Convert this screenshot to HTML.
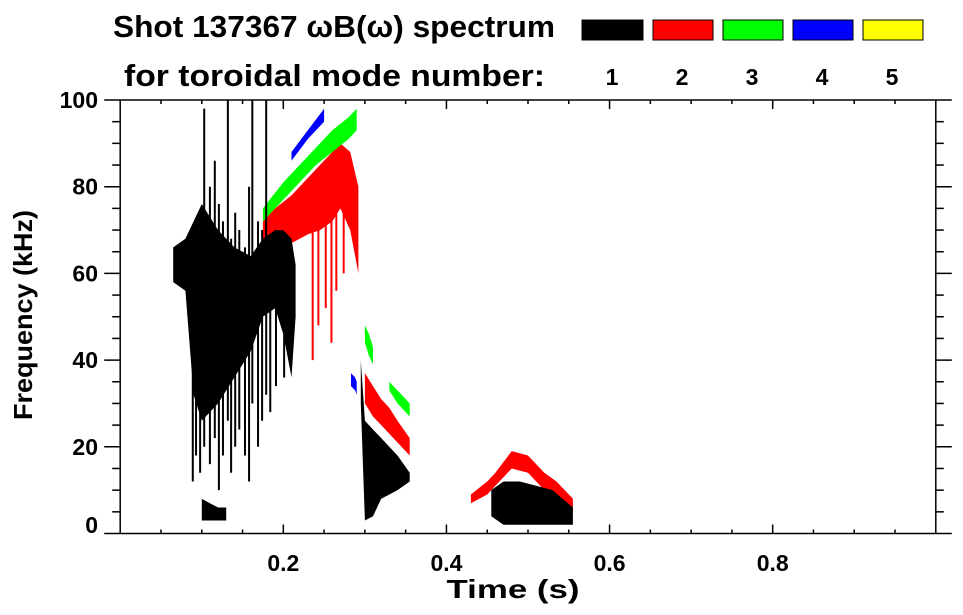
<!DOCTYPE html>
<html><head><meta charset="utf-8"><style>
body{margin:0;background:#fff;}
svg{display:block;font-family:"Liberation Sans",Arial,sans-serif;font-weight:bold;}
</style></head><body>
<svg id="chart" width="963" height="615" viewBox="0 0 963 615">
<text x="113" y="37" font-size="31" textLength="442" lengthAdjust="spacingAndGlyphs">Shot 137367 ωB(ω) spectrum</text>
<text x="124" y="86" font-size="31" textLength="421" lengthAdjust="spacingAndGlyphs">for toroidal mode number:</text>
<g>
<rect x="582" y="20" width="61" height="20" fill="#000" stroke="#000"/>
<rect x="653" y="20" width="60" height="20" fill="#f00" stroke="#000"/>
<rect x="723" y="20" width="60" height="20" fill="#0f0" stroke="#000"/>
<rect x="793" y="20" width="60" height="20" fill="#00f" stroke="#000"/>
<rect x="863" y="20" width="60" height="20" fill="#ff0" stroke="#000"/>
<text x="612" y="85" font-size="23" text-anchor="middle">1</text>
<text x="682" y="85" font-size="23" text-anchor="middle">2</text>
<text x="752" y="85" font-size="23" text-anchor="middle">3</text>
<text x="822" y="85" font-size="23" text-anchor="middle">4</text>
<text x="892" y="85" font-size="23" text-anchor="middle">5</text>
</g>
<g id="marks"></g>
<g id="axes"></g>
<text x="513" y="598" font-size="26" text-anchor="middle" textLength="133" lengthAdjust="spacingAndGlyphs">Time (s)</text>
<text transform="translate(32,315) rotate(-90)" font-size="26" text-anchor="middle" textLength="210" lengthAdjust="spacingAndGlyphs">Frequency (kHz)</text>
</svg>
<script>
// ---- data ----
const xTicks = [0.2, 0.4, 0.6, 0.8];
const xTickLabels = ["0.2", "0.4", "0.6", "0.8"];
const yTicks = [0, 20, 40, 60, 80, 100];
const yTickLabels = ["0", "20", "40", "60", "80", "100"];

// mode 1 (black) bands: time, lower freq, upper freq
const m1aT = [0.065,0.08,0.09,0.10,0.12,0.14,0.16,0.175,0.19,0.20,0.21,0.215];
const m1aLo = [58,56,32,26,30,36,42,50,52,46,36,50];
const m1aHi = [66,68,72,76,70,66,64,68,70,70,68,62];
const m1bT = [0.295,0.30,0.31,0.32,0.33,0.34,0.355];
const m1bLo = [30,3,4,8,9,10,12];
const m1bHi = [40,26,24,22,20,18,14];
const m1cT = [0.455,0.47,0.49,0.51,0.53,0.555];
const m1cLo = [4,2,2,2,2,2];
const m1cHi = [10,12,12,11,10,6];
const m1dT = [0.10,0.11,0.12,0.13];
const m1dLo = [3,3,3,3];
const m1dHi = [8,7,6,6];
// mode 2 (red)
const m2aT = [0.175,0.19,0.21,0.23,0.245,0.26,0.27,0.282,0.292];
const m2aLo = [66,67,67,69,70,72,75,70,60];
const m2aHi = [72,75,78,82,85,88,90,88,80];
const m2bT = [0.30,0.31,0.32,0.33,0.34,0.355];
const m2bLo = [30,27,25,23,21,18];
const m2bHi = [37,34,31,29,26,22];
const m2cT = [0.43,0.45,0.46,0.48,0.50,0.52,0.535,0.555];
const m2cLo = [7,9,11,15,14,10,8,5];
const m2cHi = [9,12,14,19,18,14,12,8];
// mode 3 (green)
const m3aT = [0.175,0.20,0.22,0.24,0.26,0.28,0.29];
const m3aLo = [72,77,81,85,88,91,93];
const m3aHi = [75,81,85,89,93,96,98];
const m3bT = [0.33,0.34,0.355];
const m3bLo = [33,30,27];
const m3bHi = [35,33,30];
const m3cT = [0.30,0.305,0.31];
const m3cLo = [44,41,39];
const m3cHi = [48,46,43];
// mode 4 (blue)
const m4aT = [0.21,0.23,0.25];
const m4aLo = [86,91,95];
const m4aHi = [88,93,98];
const m4bT = [0.283,0.288,0.29];
const m4bLo = [34,33,32];
const m4bHi = [37,36,35];

// black vertical spikes: time, low freq, high freq
const spikeT = [0.089,0.093,0.098,0.103,0.110,0.116,0.121,0.126,0.132,0.136,0.141,0.146,0.153,0.158,0.162,0.169,0.174,0.179,0.184,0.191,0.201];
const spikeLo = [12,18,14,20,16,22,10,18,26,14,20,24,18,12,30,20,26,32,28,34,36];
const spikeHi = [66,70,74,98,80,86,76,72,100,68,74,70,66,80,100,72,70,100,68,70,66];
// red vertical drips
const dripT = [0.236,0.243,0.252,0.259,0.265,0.274];
const dripLo = [40,48,52,44,56,60];
const dripHi = [75,78,80,82,85,80];

// ---- axes ----
const X0=120.2, XS=815.6, Y0=533.5, YS=4.335;
const xS = t => X0 + t*XS;
const yS = f => Y0 - f*YS;
const NS="http://www.w3.org/2000/svg";
const marks=document.getElementById('marks');
const axes=document.getElementById('axes');

function band(T,Lo,Hi,color,name){
  const pts=[];
  for(let i=0;i<T.length;i++) pts.push(xS(T[i]).toFixed(1)+","+yS(Hi[i]).toFixed(1));
  for(let i=T.length-1;i>=0;i--) pts.push(xS(T[i]).toFixed(1)+","+yS(Lo[i]).toFixed(1));
  const p=document.createElementNS(NS,'polygon');
  p.setAttribute('points',pts.join(' '));
  p.setAttribute('fill',color);
  
  
  marks.appendChild(p);
}
band(m2aT,m2aLo,m2aHi,'#f00','mode2-band-a');
band(m2bT,m2bLo,m2bHi,'#f00','mode2-band-b');
band(m2cT,m2cLo,m2cHi,'#f00','mode2-band-c');
band(m3aT,m3aLo,m3aHi,'#0f0','mode3-band-a');
band(m3bT,m3bLo,m3bHi,'#0f0','mode3-band-b');
band(m3cT,m3cLo,m3cHi,'#0f0','mode3-band-c');
band(m4aT,m4aLo,m4aHi,'#00f','mode4-band-a');
band(m4bT,m4bLo,m4bHi,'#00f','mode4-band-b');
band(m1aT,m1aLo,m1aHi,'#000','mode1-band-a');
band(m1bT,m1bLo,m1bHi,'#000','mode1-band-b');
band(m1cT,m1cLo,m1cHi,'#000','mode1-band-c');
band(m1dT,m1dLo,m1dHi,'#000','mode1-band-d');

function spikes(T,Lo,Hi,color,w,name){
  for(let i=0;i<T.length;i++){
    const l=document.createElementNS(NS,'line');
    l.setAttribute('x1',xS(T[i]));l.setAttribute('x2',xS(T[i]));
    l.setAttribute('y1',yS(Lo[i]));l.setAttribute('y2',yS(Hi[i]));
    l.setAttribute('stroke',color);l.setAttribute('stroke-width',w);
    
    
    marks.appendChild(l);
  }
}
spikes(dripT,dripLo,dripHi,'#f00',2,'mode2-drip');
spikes(spikeT,spikeLo,spikeHi,'#000',2,'mode1-spike');

function line(x1,y1,x2,y2,name){
  const l=document.createElementNS(NS,'line');
  l.setAttribute('x1',x1);l.setAttribute('y1',y1);l.setAttribute('x2',x2);l.setAttribute('y2',y2);
  l.setAttribute('stroke','#000');l.setAttribute('stroke-width',1.5);
  
  
  axes.appendChild(l);
}
const L=xS(0), R=xS(1), T=yS(100), B=yS(0);
line(L,T,L,B,'y-axis-left');
line(R,T,R,B,'y-axis-right');
line(L,B,R,B,'x-axis-bottom');
line(L,T,R,T,'x-axis-top');
for(let t=0.05;t<1.0;t+=0.05){
  const major=Math.abs(t*5-Math.round(t*5))<1e-6;
  const len=major?9:4;
  line(xS(t),B,xS(t),B-len,'x-tick');
  line(xS(t),T,xS(t),T+len,'x-tick-top');
}
for(let f=0;f<=100;f+=5){
  const major=f%20===0;
  line(major?L-16:L-8,yS(f),L,yS(f),'y-tick');
  line(R,yS(f),major?R+16:R+8,yS(f),'y-tick-right');
}
xTicks.forEach((v,i)=>{
  const t=document.createElementNS(NS,'text');
  t.setAttribute('x',xS(v));t.setAttribute('y',571);
  t.setAttribute('font-size',23);t.setAttribute('text-anchor','middle');
  t.textContent=xTickLabels[i];
  
  
  axes.appendChild(t);
});
yTicks.forEach((v,i)=>{
  const t=document.createElementNS(NS,'text');
  t.setAttribute('x',98);t.setAttribute('y',Math.min(yS(v)+8,533));
  t.setAttribute('font-size',23);t.setAttribute('text-anchor','end');
  t.textContent=yTickLabels[i];
  
  
  axes.appendChild(t);
});
</script>
</body></html>
